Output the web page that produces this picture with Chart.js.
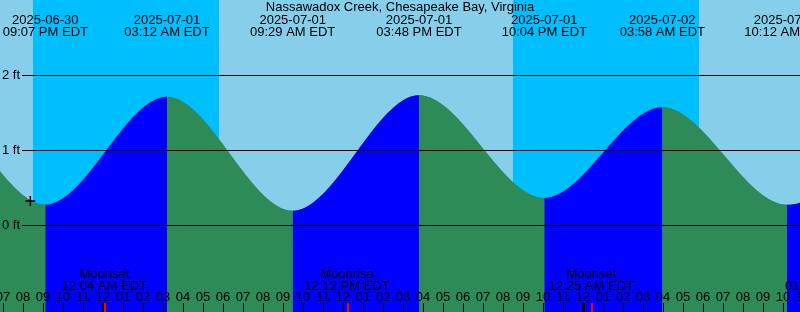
<!DOCTYPE html>
<html><head><meta charset="utf-8">
<script src="https://cdn.jsdelivr.net/npm/chart.js@4.4.1/dist/chart.umd.min.js"></script>
<style>html,body{margin:0;padding:0;background:#87CEEB;overflow:hidden}canvas{display:block}</style>
</head><body>
<canvas id="c" width="800" height="312"></canvas>
<script>
const TITLE = "Nassawadox Creek, Chesapeake Bay, Virginia";
// Tide extremes (EDT) and heights in feet (first two and last are just off-picture)
const tideTimes  = ["2025-06-30 08:40","2025-06-30 14:55","2025-06-30 21:07","2025-07-01 03:12","2025-07-01 09:29","2025-07-01 15:48","2025-07-01 22:04","2025-07-02 03:58","2025-07-02 10:12","2025-07-02 16:35"];
const tideLevels = [0.25, 1.74, 0.27, 1.71, 0.19, 1.73, 0.36, 1.57, 0.27, 1.70];
// Labelled extremes shown on top
const extremeTimes = ["2025-06-30 21:07","2025-07-01 03:12","2025-07-01 09:29","2025-07-01 15:48","2025-07-01 22:04","2025-07-02 03:58","2025-07-02 10:12"];
const extremeDates = ["2025-06-30","2025-07-01","2025-07-01","2025-07-01","2025-07-01","2025-07-02","2025-07-02"];
const extremeClock = ["09:07 PM EDT","03:12 AM EDT","09:29 AM EDT","03:48 PM EDT","10:04 PM EDT","03:58 AM EDT","10:12 AM EDT"];
// Night periods (sunset -> sunrise)
const nightStart = ["2025-06-30 20:30","2025-07-01 20:29"];
const nightEnd   = ["2025-07-01 05:48","2025-07-02 05:48"];
// Moon events
const moonTimes = ["2025-07-01 00:04","2025-07-01 12:12","2025-07-02 00:25"];
const moonNames = ["Moonset","Moonrise","Moonset"];
const moonClock = ["12:04 AM EDT","12:12 PM EDT","12:25 AM EDT"];
const edgeText = "01", edgeTextTime = "2025-07-02 10:24";
// Hour ticks
const firstHour = "2025-06-30 19:00";
const hourLabels = ["07","08","09","10","11","12","01","02","03","04","05","06","07","08","09","10","11","12","01","02","03","04","05","06","07","08","09","10","11","12","01","02","03","04","05","06","07","08","09","10","11"];
const midnights = ["2025-07-01 00:00","2025-07-02 00:00"];
// Depth lines
const depthValues = [0, 1, 2];
const depthLabels = ["0 ft","1 ft","2 ft"];
// "+" mark
const markTime = "2025-06-30 20:22", markLevel = 0.32;

const X_MIN = -5.15, X_MAX = 34.85, Y_MIN = -1.16, Y_MAX = 3.0;
const DAY = "#87CEEB", NIGHT = "#00BFFF", FLOOD = "#0000FF", EBB = "#2E8B57";
const FONT = "13px 'Liberation Sans', Arial, sans-serif";

function hrs(s){
  const [d,t] = s.split(" ");
  const [Y,M,D] = d.split("-").map(Number);
  const [h,m] = t.split(":").map(Number);
  return (Date.UTC(Y,M-1,D,h,m) - Date.UTC(2025,6,1,0,0)) / 3600000;
}

const tideData = tideTimes.map((t,i)=>({x:hrs(t), y:tideLevels[i]}));

const overlay = {
  id: "overlay",
  beforeDatasetsDraw(chart){
    const {ctx, scales:{x}} = chart;
    ctx.save();
    ctx.fillStyle = DAY;
    ctx.fillRect(0,0,chart.width,chart.height);
    ctx.fillStyle = NIGHT;
    nightStart.forEach((s,i)=>{
      const x0 = Math.round(x.getPixelForValue(hrs(s)));
      const x1 = Math.round(x.getPixelForValue(hrs(nightEnd[i])));
      ctx.fillRect(x0,0,x1-x0,chart.height);
    });
    ctx.restore();
  },
  afterDatasetsDraw(chart){
    const {ctx, scales:{x,y}} = chart;
    const W = chart.width, H = chart.height;
    ctx.save();
    // depth lines
    ctx.strokeStyle = "#000"; ctx.lineWidth = 1;
    ctx.font = FONT; ctx.fillStyle = "#000";
    depthValues.forEach((v,i)=>{
      const py = Math.round(y.getPixelForValue(v)) + 0.5;
      ctx.beginPath(); ctx.moveTo(22,py); ctx.lineTo(W,py); ctx.stroke();
      ctx.textAlign = "right"; ctx.textBaseline = "middle";
      ctx.fillText(depthLabels[i], 20, py);
    });
    // title
    ctx.textAlign = "center"; ctx.textBaseline = "middle";
    ctx.fillText(TITLE, 400, 7);
    // extremes labels
    extremeTimes.forEach((t,i)=>{
      const px = x.getPixelForValue(hrs(t));
      ctx.fillText(extremeDates[i], px, 20);
      ctx.fillText(extremeClock[i], px, 32);
    });
    // moon labels
    moonTimes.forEach((t,i)=>{
      const px = x.getPixelForValue(hrs(t));
      ctx.fillText(moonNames[i], px, 274);
      ctx.fillText(moonClock[i], px, 286);
    });
    ctx.textAlign = "left";
    ctx.fillText(edgeText, x.getPixelForValue(hrs(edgeTextTime))-6, 286);
    ctx.textAlign = "center";
    // hour labels and ticks
    const h0 = hrs(firstHour);
    hourLabels.forEach((lab,i)=>{
      const px = Math.round(x.getPixelForValue(h0 + i));
      ctx.fillText(lab, px, 297.5);
      ctx.fillRect(px, 303, 1, H-303);
    });
    midnights.forEach(t=>{
      const px = Math.round(x.getPixelForValue(hrs(t)));
      ctx.fillRect(px-1, 303, 3, H-303);
    });
    ctx.fillStyle = "#FF0000";
    moonTimes.forEach(t=>{
      const px = Math.round(x.getPixelForValue(hrs(t)));
      ctx.fillRect(px, 303, 2, H-303);
    });
    ctx.restore();
  }
};

new Chart(document.getElementById("c"), {
  type: "line",
  data: {
    datasets: [
      {
        data: tideData,
        order: 2,
        cubicInterpolationMode: "monotone",
        fill: "start",
        backgroundColor: EBB,
        borderWidth: 0,
        borderColor: "rgba(0,0,0,0)",
        pointRadius: 0,
        clip: 0,
        segment: {
          backgroundColor: c => (c.p1.parsed.y > c.p0.parsed.y ? FLOOD : EBB)
        }
      },
      {
        // underlay of the same tide curve, hides anti-aliasing seams between segments
        data: tideData,
        order: 3,
        cubicInterpolationMode: "monotone",
        fill: "start",
        backgroundColor: EBB,
        borderWidth: 0,
        borderColor: "rgba(0,0,0,0)",
        pointRadius: 0,
        clip: 0
      },
      {
        type: "scatter",
        order: 1,
        data: [{x: hrs(markTime), y: markLevel}],
        pointStyle: "cross",
        pointRadius: 5,
        borderColor: "#000",
        borderWidth: 1.5,
        backgroundColor: "#000",
        clip: 0
      }
    ]
  },
  options: {
    responsive: false,
    animation: false,
    events: [],
    layout: {padding: 0, autoPadding: false},
    plugins: {legend: {display: false}, tooltip: {enabled: false}, title: {display: false}},
    scales: {
      x: {type: "linear", min: X_MIN, max: X_MAX, display: false},
      y: {type: "linear", min: Y_MIN, max: Y_MAX, display: false}
    }
  },
  plugins: [overlay]
});
</script>
</body></html>
